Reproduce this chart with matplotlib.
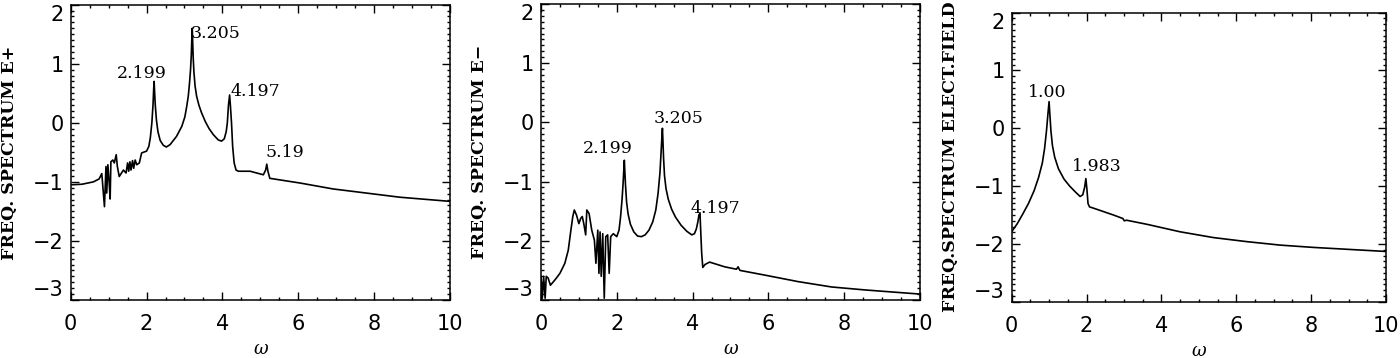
import numpy as np
import matplotlib
matplotlib.use("Agg")
import matplotlib.pyplot as plt
from matplotlib.ticker import MultipleLocator

# E+ spectrum
w_plus = [0.0, 0.3, 0.6, 0.75, 0.82, 0.89, 0.93, 0.95, 0.98, 1.01, 1.04, 1.06, 1.11,
          1.15, 1.20, 1.23, 1.28, 1.39, 1.46, 1.50, 1.53, 1.56, 1.59, 1.63, 1.66, 1.70,
          1.74, 1.81, 1.87, 2.00, 2.06, 2.10, 2.14, 2.17, 2.19, 2.20, 2.21, 2.23, 2.26,
          2.30, 2.36, 2.44, 2.52, 2.62, 2.79, 2.93, 3.01, 3.06, 3.10, 3.13, 3.16, 3.18,
          3.195, 3.205, 3.215, 3.23, 3.25, 3.28, 3.32, 3.38, 3.45, 3.55, 3.65, 3.76,
          3.89, 3.98, 4.05, 4.10, 4.13, 4.16, 4.19, 4.21, 4.24, 4.27, 4.31, 4.36, 4.42,
          4.73, 5.08, 5.14, 5.17, 5.20, 5.25, 6.05, 6.92, 7.80, 8.68, 10.0]
s_plus = [-1.05, -1.04, -1.00, -0.95, -0.86, -1.42, -0.74, -1.19, -0.71, -0.97, -1.29,
          -0.66, -0.63, -0.68, -0.54, -0.74, -0.91, -0.80, -0.85, -0.68, -0.82, -0.66,
          -0.80, -0.64, -0.77, -0.63, -0.71, -0.68, -0.51, -0.48, -0.40, -0.25, 0.00,
          0.30, 0.60, 0.70, 0.55, 0.30, 0.05, -0.15, -0.30, -0.38, -0.41, -0.37, -0.23,
          -0.06, 0.10, 0.28, 0.45, 0.65, 0.90, 1.15, 1.45, 1.60, 1.40, 1.10, 0.85, 0.62,
          0.45, 0.30, 0.17, 0.02, -0.10, -0.20, -0.29, -0.31, -0.27, -0.15, 0.00, 0.30,
          0.47, 0.30, 0.00, -0.40, -0.68, -0.80, -0.82, -0.82, -0.88, -0.80, -0.70,
          -0.82, -0.94, -1.02, -1.12, -1.19, -1.26, -1.33]

# E- spectrum
w_minus = [0.0, 0.035, 0.07, 0.11, 0.14, 0.19, 0.25, 0.37, 0.5, 0.63, 0.72, 0.79, 0.84,
           0.88, 0.94, 1.0, 1.05, 1.09, 1.13, 1.18, 1.21, 1.27, 1.34, 1.41, 1.45, 1.50,
           1.53, 1.56, 1.59, 1.63, 1.67, 1.71, 1.76, 1.80, 1.84, 1.91, 2.0, 2.06, 2.10,
           2.14, 2.17, 2.19, 2.20, 2.21, 2.23, 2.26, 2.30, 2.36, 2.45, 2.55, 2.65, 2.75,
           2.85, 2.95, 3.03, 3.09, 3.14, 3.17, 3.195, 3.205, 3.215, 3.235, 3.26, 3.30,
           3.36, 3.45, 3.55, 3.70, 3.85, 3.98, 4.05, 4.10, 4.14, 4.17, 4.197, 4.21, 4.24,
           4.27, 4.33, 4.45, 4.85, 5.16, 5.2, 5.25, 5.91, 6.79, 7.67, 8.55, 10.0]
s_minus = [-2.6, -2.97, -2.6, -2.97, -2.6, -2.63, -2.75, -2.66, -2.55, -2.38, -2.16,
           -1.82, -1.59, -1.48, -1.57, -1.71, -1.62, -1.59, -1.71, -1.90, -1.48, -1.54,
           -1.82, -1.99, -2.38, -1.82, -2.55, -1.85, -2.6, -1.88, -2.97, -1.93, -1.90,
           -2.55, -1.93, -1.88, -1.93, -1.82, -1.60, -1.30, -1.00, -0.75, -0.64, -0.78,
           -1.05, -1.35, -1.55, -1.72, -1.85, -1.92, -1.93, -1.90, -1.82, -1.68, -1.48,
           -1.20, -0.85, -0.50, -0.20, -0.10, -0.25, -0.60, -0.90, -1.12, -1.30, -1.47,
           -1.60, -1.74, -1.84, -1.90, -1.88, -1.80, -1.68, -1.56, -1.54, -1.75, -2.20,
           -2.45, -2.40, -2.36, -2.44, -2.48, -2.44, -2.50, -2.58, -2.69, -2.78, -2.83,
           -2.90]

# electric field spectrum
w_field = [0.0, 0.15, 0.3, 0.45, 0.6, 0.72, 0.82, 0.88, 0.93, 0.97, 1.0, 1.02, 1.05,
           1.09, 1.15, 1.25, 1.4, 1.55, 1.7, 1.83, 1.9, 1.95, 1.983, 2.01, 2.04, 2.08,
           2.18, 2.45, 2.72, 2.97, 3.01, 3.07, 3.61, 4.5, 5.39, 6.28, 7.17, 8.06, 10.0]
s_field = [-1.79, -1.65, -1.48, -1.30, -1.08, -0.85, -0.60, -0.35, -0.05, 0.25, 0.46,
           0.25, -0.05, -0.30, -0.50, -0.70, -0.88, -1.00, -1.10, -1.18, -1.15, -1.02,
           -0.87, -1.05, -1.30, -1.36, -1.38, -1.44, -1.50, -1.56, -1.60, -1.59, -1.66,
           -1.79, -1.89, -1.96, -2.02, -2.06, -2.13]

ylabels = ["FREQ. SPECTRUM E+", "FREQ. SPECTRUM E\u2212", "FREQ.SPECTRUM ELECT.FIELD"]
peak_text = [["2.199", "3.205", "4.197", "5.19"],
             ["2.199", "3.205", "4.197"],
             ["1.00", "1.983"]]
peak_pos = [[(1.87, 0.84), (3.82, 1.52), (4.86, 0.53), (5.66, -0.51)],
            [(1.75, -0.44), (3.64, 0.07), (4.61, -1.45)],
            [(0.95, 0.61), (2.27, -0.66)]]

fig = plt.figure(figsize=(14, 3.58), dpi=100)
rects = [[0.0505, 0.162, 0.2709, 0.825],
         [0.3864, 0.162, 0.2707, 0.827],
         [0.7226, 0.157, 0.2674, 0.808]]
xs = [w_plus, w_minus, w_field]
ys = [s_plus, s_minus, s_field]
axes = []

for i in range(3):
    ax = fig.add_axes(rects[i])
    ax.plot(xs[i], ys[i], color="black", lw=1.2)
    ax.set_xlim(0, 10)
    ax.set_ylim(-3, 2)
    ax.xaxis.set_major_locator(MultipleLocator(2))
    ax.xaxis.set_minor_locator(MultipleLocator(0.5))
    ax.yaxis.set_major_locator(MultipleLocator(1))
    ax.yaxis.set_minor_locator(MultipleLocator(0.1))
    ax.tick_params(which="both", direction="in", top=True, right=True,
                   labelsize=15, width=1.0)
    ax.tick_params(which="major", length=5.5)
    ax.tick_params(which="minor", length=2.5)
    ax.tick_params(axis="x", pad=10)
    ax.tick_params(axis="y", pad=5)
    for sp in ax.spines.values():
        sp.set_linewidth(1.1)
    ax.set_xlabel("\u03c9", family="DejaVu Serif", style="italic", fontsize=13,
                  va="center")
    # omega sits about 49 px under the frame
    ax.xaxis.set_label_coords(0.5, -49 / (rects[i][3] * 358))
    ax.set_ylabel(ylabels[i], family="DejaVu Serif", fontweight="bold", fontsize=12.5)
    ax.yaxis.set_label_coords(-0.14, 0.5)
    for t, (px, py) in zip(peak_text[i], peak_pos[i]):
        ax.text(px, py, t, ha="center", va="center", family="DejaVu Serif",
                fontsize=12.5)
    axes.append(ax)

fig.canvas.draw()
# end labels pushed inside the frame, like the original
for ax in axes:
    for tick in ax.yaxis.get_major_ticks():
        if abs(tick.get_loc() - 2) < 1e-6:
            tick.label1.set_verticalalignment("top")
        elif abs(tick.get_loc() + 3) < 1e-6:
            tick.label1.set_verticalalignment("bottom")

fig.savefig("out.png", dpi=100)
